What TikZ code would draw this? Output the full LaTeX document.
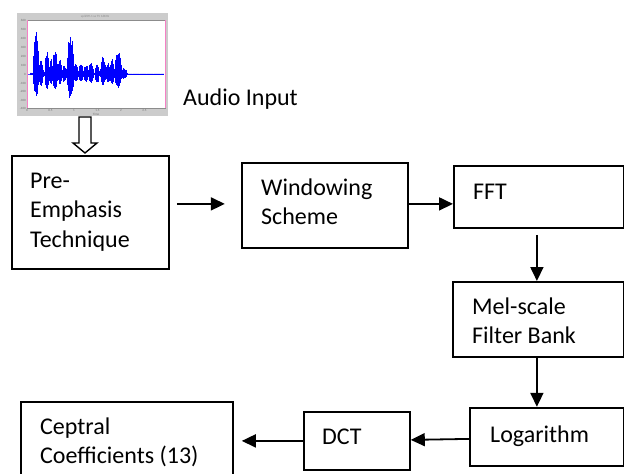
\documentclass[tikz,border=0pt]{standalone}
\usepackage{fontspec}
\setmainfont{Carlito}
\usetikzlibrary{arrows.meta,calc}

\begin{document}
\begin{tikzpicture}[x=1pt,y=-1pt,
    box/.style={draw=black,line width=1.8pt,rectangle,inner sep=0pt,anchor=north west},
    txt/.style={anchor=base west,inner sep=0pt,text width=220pt,align=flush left,
                font=\fontsize{24}{29.5}\selectfont},
    arr/.style={line width=1.8pt,-{Triangle[length=14pt,width=13pt]}},
    wave/.style={blue,line width=0.75pt},
    tick/.style={font=\fontsize{3.2}{3.5}\selectfont,text=black!55,inner sep=0pt}]
\useasboundingbox (0,0) rectangle (624,474);

% ---- waveform thumbnail ----
\fill[black!20] (17,13) rectangle (168,116);
\draw[fill=white,draw=black!45,line width=0.3pt] (27,20) rectangle (165,108);
\draw[magenta!50,line width=0.5pt] (165,20) -- (165,108);
\draw[magenta!50,line width=0.5pt] (27,20) -- (27,108);
\node[tick,anchor=center,text=black!45] (title) at (95,16.5) {spl \#09-1 sa TV 16KHz};
\foreach \yy/\lab in {20/600,29/500,38.5/400,47.5/300,56.5/200,65.5/100,74/0,83/-100,91.5/-200,100/-300,108/-400}
  \node[tick,anchor=east] at (26,\yy) {\lab};
\foreach \xx/\lab in {27/0,50.5/0.5,74/1,97.5/1.5,121/2,144.5/2.5}
  \node[tick,anchor=north] at (\xx,109.5) {\lab};
\node[tick,anchor=north] at (96,113) {Time};
\draw[blue!70,line width=0.4pt] (28,74) -- (164,74);
\pgfmathsetseed{11}
\foreach \x in {30,30.35,...,164}{
  \pgfmathsetmacro\u{1.2
    +45*max(0,1-((\x-36)/3)^2)+12*max(0,1-((\x-41)/2.2)^2)
    +22*max(0,1-((\x-47)/2.4)^2)+14*max(0,1-((\x-51)/1.8)^2)
    +23*max(0,1-((\x-55)/2.7)^2)+14*max(0,1-((\x-60)/2.2)^2)
    +8*max(0,1-((\x-64)/2)^2)+37*max(0,1-((\x-70.5)/4)^2)
    +9*max(0,1-((\x-76)/2.2)^2)+9*max(0,1-((\x-81)/2.7)^2)
    +8*max(0,1-((\x-86)/2.7)^2)+10*max(0,1-((\x-91)/2.7)^2)
    +9*max(0,1-((\x-97)/2.2)^2)+17*max(0,1-((\x-103)/2.7)^2)
    +11*max(0,1-((\x-108)/2.2)^2)+14*max(0,1-((\x-112)/2.2)^2)
    +22*max(0,1-((\x-118)/3.8)^2)+5*max(0,1-((\x-124)/3)^2)}
  \pgfmathsetmacro\d{1.2
    +22*max(0,1-((\x-36)/3)^2)+11*max(0,1-((\x-41)/2.2)^2)
    +15*max(0,1-((\x-47)/2.4)^2)+10*max(0,1-((\x-51)/1.8)^2)
    +15*max(0,1-((\x-55)/2.7)^2)+10*max(0,1-((\x-60)/2.2)^2)
    +7*max(0,1-((\x-64)/2)^2)+24*max(0,1-((\x-70.5)/4)^2)
    +7*max(0,1-((\x-76)/2.2)^2)+7*max(0,1-((\x-81)/2.7)^2)
    +7*max(0,1-((\x-86)/2.7)^2)+8*max(0,1-((\x-91)/2.7)^2)
    +8*max(0,1-((\x-97)/2.2)^2)+11*max(0,1-((\x-103)/2.7)^2)
    +8*max(0,1-((\x-108)/2.2)^2)+10*max(0,1-((\x-112)/2.2)^2)
    +13*max(0,1-((\x-118)/3.8)^2)+4*max(0,1-((\x-124)/3)^2)}
  \pgfmathsetmacro\fade{\x>126 ? 0.4 : 1}
  \draw[wave] (\x,{74-\fade*\u*(0.75+0.25*rnd)}) -- (\x,{74+\fade*\d*(0.75+0.25*rnd)});
}

% hollow arrow from the waveform into the first stage
\draw[line width=1.4pt,fill=white,line join=miter]
  (79,117) -- (91,117) -- (91,143) -- (97,143) -- (85,153) -- (73,143) -- (79,143) -- cycle;
\node[txt] (audio) at (183,105) {Audio Input};

% ---- processing stages ----
\node[box,minimum width=157pt,minimum height=113pt] (pre) at (11,155) {};
\node[box,minimum width=166pt,minimum height=85pt]  (win) at (241,162) {};
\node[box,minimum width=170pt,minimum height=62pt]  (fft) at (453,165) {};
\node[box,minimum width=171pt,minimum height=75pt]  (mel) at (452,281) {};
\node[box,minimum width=154pt,minimum height=58pt]  (log) at (469,407) {};
\node[box,minimum width=106pt,minimum height=58pt]  (dct) at (303,411) {};
\node[box,minimum width=212pt,minimum height=84pt]  (cep) at (20,401) {};

\node[txt] (preT) at ([shift={(19,33)}]pre.north west) {Pre-\\Emphasis\\Technique};
\node[txt] (winT) at ([shift={(20,33)}]win.north west) {Windowing\\Scheme};
\node[txt] (fftT) at ([shift={(20,34)}]fft.north west) {FFT};
\node[txt] (melT) at ([shift={(20,33)}]mel.north west) {Mel-scale\\Filter Bank};
\node[txt] (logT) at ([shift={(21,35)}]log.north west) {Logarithm};
\node[txt] (dctT) at ([shift={(19,33)}]dct.north west) {DCT};
\node[txt] (cepT) at ([shift={(20,33)}]cep.north west) {Ceptral\\Coefficients (13)};

% ---- connectors ----
\draw[arr] ($(pre.east |- win.west)+(7,-1.5)$) -- ($(pre.east |- win.west)+(55,-1.5)$);
\draw[arr] ($(win.east)+(0,-1.5)$) -- ($(fft.west |- win.east)+(0,-1.5)$);
\draw[arr] ($(fft.south)+(-2,6)$) -- ($(mel.north)+(-1.5,0)$);
\draw[arr] ($(mel.south)+(-1.5,0)$) -- ($(mel.south)+(-1.5,49)$);
\draw[arr] ($(log.west)+(0,2)$) -- ($(dct.east)+(0,-1)$);
\draw[arr] (dct.west) -- ($(cep.east |- dct.west)+(8,0)$);
\end{tikzpicture}
\end{document}
